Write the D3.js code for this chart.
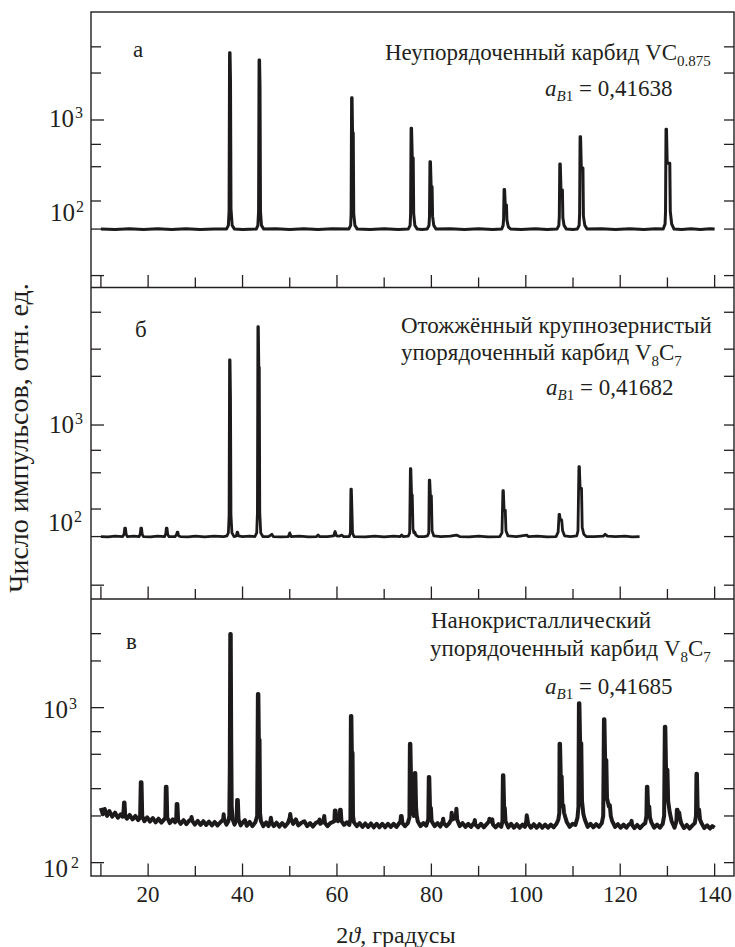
<!DOCTYPE html>
<html><head><meta charset="utf-8">
<script src="https://cdn.jsdelivr.net/npm/d3@7"></script>
<style>
body{margin:0;background:#fff}
svg text{font-family:"Liberation Serif","DejaVu Serif",serif;fill:#231f20}
</style>
</head><body>
<svg id="chart" width="735" height="947"></svg>
<script>
// ---------------- DATA ----------------
const X_TICKS = [10,20,30,40,50,60,70,80,90,100,110,120,130,140];
const X_TICK_LABELS = [20,40,60,80,100,120,140];

const Y_TICKS_A = [8000,3800,1000,500,265,100,45,12];
const Y_TICKS_B = [22000,8000,3800,1000,500,270,100,47,12.4];
const Y_TICKS_C = [3000,2000,1000,700,500,300,200,100];

const Y_LABELS_A = [{v:1000,exp:"3"},{v:100,exp:"2"}];
const Y_LABELS_B = [{v:1000,exp:"3"},{v:100,exp:"2"}];
const Y_LABELS_C = [{v:1000,exp:"3"},{v:100,exp:"2"}];

// Panel a: disordered VC0.875 (2theta, counts)
const TRACE_A = [
[10,45],[13,44.5],[16,45.5],[19,44.6],[22,45.3],[25,44.5],[28,45.4],[31,44.6],[34,45.2],[36.6,45],
[37.0,50],[37.15,75],[37.25,6770],[37.35,6770],[37.45,3000],[37.55,80],[37.8,50],[38.3,45],
[40,44.6],[42.9,45],
[43.25,50],[43.4,75],[43.5,5510],[43.6,5510],[43.7,2600],[43.8,75],[44.0,50],[44.5,45],
[47,45.4],[50,44.6],[53,45.3],[56,44.5],[59,45.3],[62.5,45],
[62.9,50],[63.0,70],[63.1,1885],[63.2,1885],[63.3,690],[63.45,690],[63.55,70],[63.8,50],[64.3,45],
[67,44.6],[70,45.4],[73,44.6],[75.1,45],
[75.5,50],[75.6,70],[75.7,790],[75.8,790],[75.95,340],[76.15,340],[76.25,70],[76.5,50],[77,45],
[78,44.6],[79.1,45],
[79.5,50],[79.6,65],[79.7,305],[79.8,305],[79.95,150],[80.15,150],[80.25,65],[80.5,50],[81,45],
[84,45.4],[87,44.6],[90,45.3],[93,44.6],[94.9,45],
[95.2,50],[95.3,60],[95.4,139],[95.5,139],[95.65,89],[95.9,89],[96.0,58],[96.3,48],[96.8,45],
[99,44.6],[102,45.4],[104.5,44.6],[106.6,45],
[107.0,50],[107.1,65],[107.2,286],[107.3,286],[107.45,137],[107.75,137],[107.85,62],[108.1,50],[108.6,45],
[110,44.6],[110.9,45],
[111.3,50],[111.4,70],[111.5,622],[111.6,622],[111.75,255],[112.1,255],[112.2,65],[112.5,50],[113,45],
[116,45.4],[119,44.6],[122,45.3],[125,44.5],[127.5,45.3],[129.1,45],
[129.5,52],[129.6,75],[129.7,767],[129.8,767],[129.95,292],[130.5,292],[130.6,75],[130.9,52],[131.4,45],
[133,44.6],[135,45.4],[137,44.6],[139,45.3],[140,45]
];

// Panel b: annealed coarse-grained ordered V8C7
const TRACE_B = [
[10,47],[11.5,46.5],[13,47.5],[14.6,47],
[14.9,50],[15.05,59],[15.2,59],[15.35,50],[15.6,47],
[17,47.5],[18.1,47],
[18.35,51],[18.45,59],[18.6,59],[18.75,50],[19,47],
[20.5,46.5],[22,47.5],[23.5,47],
[23.75,51],[23.85,59],[24.0,59],[24.15,50],[24.4,47],
[25.7,47],
[26.05,50],[26.15,53],[26.3,53],[26.45,48],[26.8,47],
[28.5,46.5],[30,47.5],[32,46.5],[34,47.5],[36,47],
[36.7,48],[37.0,52],[37.15,85],[37.25,5940],[37.35,5940],[37.45,2200],[37.55,85],[37.75,52],[38.2,47],
[38.7,48],[38.85,53],[38.95,53],[39.15,48],
[40,47],[41.5,47.5],[42.6,47],
[43.0,52],[43.15,90],[43.25,14790],[43.35,14790],[43.45,4860],[43.55,4860],[43.65,90],[43.85,52],[44.3,47],
[45.5,47],[46.2,50],[46.5,47],[48,46.5],[49.7,47],[50.0,52],[50.3,47],[52,47.5],[54,46.5],[55.7,47],[56,49],[56.3,47],
[58,47],[59.3,48],[59.6,54],[59.9,48],[60.5,47.5],[61,49],[61.4,47],[62.6,47],
[62.85,52],[62.95,173],[63.05,173],[63.15,110],[63.3,52],[63.6,47],
[66,46.5],[68,47.5],[70,46.5],[72,47.5],[73.4,47],[73.7,49],[74,47],[75.1,47.5],
[75.4,52],[75.55,302],[75.65,302],[75.8,147],[75.95,147],[76.1,58],[76.3,52],[76.5,53],[76.7,49],[77.2,47],
[78.5,47],[79.2,48],
[79.45,52],[79.55,221],[79.65,221],[79.8,143],[80.0,143],[80.15,55],[80.5,48],
[82,47],[84,47.5],[85.3,49],[86,47],[88,46.5],[90,47.5],[92,46.5],[94.5,47],
[94.95,52],[95.15,165],[95.25,165],[95.4,97],[95.65,97],[95.8,55],[96.2,48],
[98,47],[100.2,49],[100.5,47],[102.5,47.5],[104.5,46.5],[106.4,47],
[106.85,53],[107.05,86.5],[107.15,86.5],[107.3,74],[107.6,74],[107.8,55],[108.2,48],
[109.5,47],[110.8,48],
[111.05,55],[111.25,319],[111.35,319],[111.5,176],[111.8,176],[111.95,60],[112.3,50],[112.8,47],
[114.5,47],[116.4,47.5],[116.8,50],[117.3,47.5],[119,47],[121,47.5],[122.5,46.5],[124.1,47]
];

// Panel c: nanocrystalline ordered V8C7
const TRACE_C = [
[10,225],[10.4,205],[10.8,222],[11.3,200],[11.8,215],[12.4,198],[13,210],[13.6,195],[14.2,205],
[14.6,198],[14.8,215],[14.9,244],[15.0,244],[15.15,200],
[15.5,192],[16.1,203],[16.7,190],[17.3,200],[17.9,188],
[18.3,195],[18.45,330],[18.6,330],[18.75,200],
[19.2,185],[19.8,196],[20.4,184],[21,194],[21.6,182],[22.2,192],[22.8,181],[23.4,190],
[23.65,195],[23.75,309],[23.9,309],[24.05,195],
[24.6,180],[25.2,190],[25.7,182],
[25.95,190],[26.05,239],[26.2,239],[26.35,188],
[26.9,178],[27.5,188],[28.1,177],[28.7,187],
[29.1,190],[29.2,197],[29.35,186],
[29.9,176],[30.5,186],[31.1,175],[31.7,185],[32.3,175],[32.9,184],[33.5,174],[34.1,183],[34.7,174],[35.3,182],
[35.9,190],[36.0,205],[36.1,190],
[36.6,176],[37.0,185],
[37.2,200],[37.3,400],[37.4,2990],[37.5,2990],[37.6,600],[37.7,230],[37.9,190],
[38.3,176],
[38.75,190],[38.85,254],[39.0,254],[39.15,190],
[39.6,174],[40.2,184],[40.5,188],[40.9,173],[41.5,183],[42.1,172],[42.7,182],
[43.1,200],[43.25,1225],[43.35,1225],[43.45,620],[43.6,620],[43.7,210],[43.9,185],
[44.4,172],[45.0,182],[45.5,172],
[45.9,185],[46.0,195],[46.15,182],
[46.6,172],[47.2,181],[47.8,171],[48.4,180],[49.0,171],[49.6,180],
[50.0,195],[50.1,206],[50.25,192],
[50.7,178],[51.3,190],[51.8,174],[52.4,180],[53.1,185],[53.7,172],[54.3,180],[54.9,171],[55.5,180],
[56.2,185],[56.3,190],[56.45,178],
[57.15,185],[57.3,200],[57.45,180],
[58.0,172],[58.6,180],
[59.45,185],[59.55,217],[59.7,217],[59.85,190],
[60.2,185],
[60.55,190],[60.65,219],[60.8,219],[60.95,185],
[61.5,175],[62.1,182],[62.6,175],
[62.85,190],[62.95,883],[63.05,883],[63.15,511],[63.3,511],[63.4,200],[63.6,182],
[64.2,172],[64.8,180],[65.4,170],[66.0,179],[66.6,170],[67.2,179],[67.8,169],[68.4,178],[69.0,169],[69.6,178],
[70.2,169],[70.8,178],[71.4,170],[72.0,178],[72.6,170],[73.1,178],
[73.45,185],[73.55,200],[73.7,200],[73.85,180],
[74.4,172],[75.0,180],
[75.35,195],[75.45,584],[75.55,584],[75.7,330],[75.9,300],[76.05,210],[76.3,200],
[76.4,230],[76.5,378],[76.6,378],[76.75,230],[76.9,200],[77.1,185],
[77.7,172],[78.3,180],[78.9,173],
[79.35,190],[79.45,357],[79.55,357],[79.7,230],[79.9,225],[80.05,185],
[80.7,172],[81.3,180],[81.9,171],
[82.4,185],[82.5,192],[82.6,180],
[83.2,172],[83.8,180],
[84.2,190],[84.3,210],[84.45,190],
[85.15,195],[85.3,223],[85.45,190],
[86.0,172],[86.6,180],[87.2,170],[87.8,178],[88.4,170],
[89.1,182],[89.2,188],[89.3,176],
[89.9,169],[90.5,178],[91.1,169],[91.7,177],
[92.2,185],[92.3,192],[92.45,184],[92.9,190],[93.05,176],
[93.6,169],[94.2,177],[94.8,170],
[95.05,185],[95.15,366],[95.25,366],[95.4,230],[95.55,225],[95.7,185],
[96.3,169],[96.9,178],[97.5,168],[98.1,177],[98.7,168],[99.3,176],[99.8,170],
[100.1,185],[100.2,202],[100.35,190],[100.5,178],
[101.1,168],[101.7,177],[102.3,168],[102.9,177],[103.5,168],[104.1,176],[104.7,168],[105.3,176],[105.9,169],[106.5,178],
[106.9,190],[107.1,210],[107.15,584],[107.25,584],[107.4,359],[107.6,359],[107.75,230],[107.95,235],[108.1,210],[108.4,195],[108.7,182],
[109.3,170],[109.9,178],[110.5,175],
[110.95,195],[111.15,230],[111.25,1067],[111.35,1067],[111.5,588],[111.75,588],[111.9,250],[112.2,205],[112.5,190],
[113.1,170],[113.7,178],[114.3,169],[114.9,177],[115.5,170],[116.1,180],
[116.4,200],[116.55,841],[116.65,841],[116.8,460],[117.05,460],[117.2,260],[117.6,230],[117.8,235],[118.0,200],[118.3,185],
[118.9,170],[119.5,177],[120.1,168],[120.7,176],[121.3,168],[121.8,176],
[122.3,180],[122.4,186],[122.5,176],
[123.0,167],[123.6,175],[124.2,167],[124.8,175],[125.3,180],
[125.55,200],[125.65,309],[125.75,309],[125.9,230],[126.15,230],[126.3,195],[126.6,182],
[127.2,168],[127.8,176],[128.4,168],[129.0,178],
[129.3,200],[129.45,753],[129.55,753],[129.7,397],[130.0,397],[130.15,250],[130.5,210],[130.9,185],
[131.5,168],
[131.9,185],[132.0,219],[132.15,219],[132.3,200],[132.5,210],[132.65,195],[132.9,180],
[133.5,167],[134.1,175],[134.7,166],[135.3,174],[135.8,180],
[136.05,200],[136.15,374],[136.25,374],[136.4,220],[136.7,220],[136.9,190],[137.2,180],
[137.8,167],[138.4,174],[139.0,166],[139.5,172],[140.0,168]
];

// ---------------- LAYOUT ----------------
const svg = d3.select("#chart");
const L = 91, R = 734;
const x = d3.scaleLinear().domain([7.9,144.1]).range([L,R]);
const ink = "#231f20";

const panels = [
  {trace:TRACE_A, ticks:Y_TICKS_A, labels:Y_LABELS_A, dom:[8.55,21540], top:12, bottom:287.5, sw:3.0,
   labelPos:[{x:49,dy:6.7},{x:50,dy:19.7}], major:[1000,12]},
  {trace:TRACE_B, ticks:Y_TICKS_B, labels:Y_LABELS_B, dom:[8.49,43350], top:287.5, bottom:599, sw:2.8,
   labelPos:[{x:49,dy:8},{x:48,dy:22}], major:[1000,12.4]},
  {trace:TRACE_C, ticks:Y_TICKS_C, labels:Y_LABELS_C, dom:[82,5020], top:599, bottom:876, sw:4.0,
   labelPos:[{x:43,dy:10.3},{x:43,dy:14}], major:[1000,100]}
];

panels.forEach((p,pi)=>{
  const y = d3.scaleLog().domain(p.dom).range([p.bottom,p.top]);
  const g = svg.append("g");
  const line = d3.line().x(d=>x(d[0])).y(d=>y(d[1])).curve(d3.curveLinear);
  g.append("path").datum(p.trace).attr("d",line)
    .attr("fill","none").attr("stroke","#1c1a1a").attr("stroke-width",p.sw)
    .attr("stroke-linejoin","round");
  g.selectAll(null).data(p.ticks).enter().append("line")
    .attr("x1",L).attr("x2",d=>L+(p.major.includes(d)?13:10))
    .attr("y1",d=>y(d)).attr("y2",d=>y(d))
    .attr("stroke",ink).attr("stroke-width",1.3);
  g.selectAll(null).data(p.ticks).enter().append("line")
    .attr("x1",R).attr("x2",R-10)
    .attr("y1",d=>y(d)).attr("y2",d=>y(d))
    .attr("stroke",ink).attr("stroke-width",1.3);
  g.selectAll(null).data(X_TICKS).enter().append("line")
    .attr("x1",d=>x(d)).attr("x2",d=>x(d))
    .attr("y1",p.bottom).attr("y2",d=>p.bottom-((d%20===0||d===10)?12.5:10))
    .attr("stroke",ink).attr("stroke-width",1.3);
  p.labels.forEach((lb,i)=>{
    const pos = p.labelPos[i];
    const t = g.append("text").attr("x",pos.x).attr("y",y(lb.v)+pos.dy)
      .attr("font-size",25);
    t.append("tspan").text("10");
    t.append("tspan").attr("font-size",16).attr("dx", (i===1 && pi===2) ? 3 : 1).attr("dy",-9).text(lb.exp);
  });
});

svg.append("rect").attr("x",L).attr("y",12).attr("width",R-L).attr("height",876-12)
  .attr("fill","none").attr("stroke",ink).attr("stroke-width",1.4);
[287.5,599].forEach(v=>svg.append("line").attr("x1",L).attr("x2",R).attr("y1",v).attr("y2",v)
  .attr("stroke",ink).attr("stroke-width",1.4));

svg.selectAll(null).data(X_TICK_LABELS).enter().append("text")
  .attr("x",d=>x(d)).attr("y",902).attr("text-anchor","middle").attr("font-size",23).text(d=>d);

const xt = svg.append("text").attr("x",396).attr("y",943).attr("text-anchor","middle").attr("font-size",24);
xt.append("tspan").text("2");
xt.append("tspan").attr("font-style","italic").text("ϑ");
xt.append("tspan").text(", градусы");

svg.append("text").attr("transform","translate(28,438) rotate(-90)").attr("text-anchor","middle")
  .attr("font-size",28).text("Число импульсов, отн. ед.");

function txt(xp,yp,size){ return svg.append("text").attr("x",xp).attr("y",yp).attr("font-size",size||23); }
txt(133,57).text("а");
txt(135,337).text("б");
txt(126,649).text("в");

function aB1(xp,yp,val){
  const t = txt(xp,yp,23);
  t.append("tspan").attr("font-style","italic").text("a");
  t.append("tspan").attr("font-style","italic").attr("font-size",15).attr("dy",5).text("B");
  t.append("tspan").attr("font-size",15).text("1");
  t.append("tspan").attr("dy",-5).text(" = " + val);
}
function formula(t, parts){
  parts.forEach(pt=>{
    const s = t.append("tspan").text(pt[0]);
    if(pt[1]){ s.attr("font-size",15).attr("dy",pt[1]); }
    else if(pt[2]) s.attr("dy",pt[2]);
  });
}
formula(txt(385,60), [["Неупорядоченный карбид VC"],["0.875",6]]);
aB1(545,96,"0,41638");
txt(401,333).text("Отожжённый крупнозернистый");
formula(txt(401,360), [["упорядоченный карбид  V"],["8",6],["C",0,-6],["7",6]]);
aB1(546,395,"0,41682");
txt(431,628).text("Нанокристаллический");
formula(txt(430,656), [["упорядоченный карбид  V"],["8",6],["C",0,-6],["7",6]]);
aB1(545,694,"0,41685");
</script>
</body></html>
